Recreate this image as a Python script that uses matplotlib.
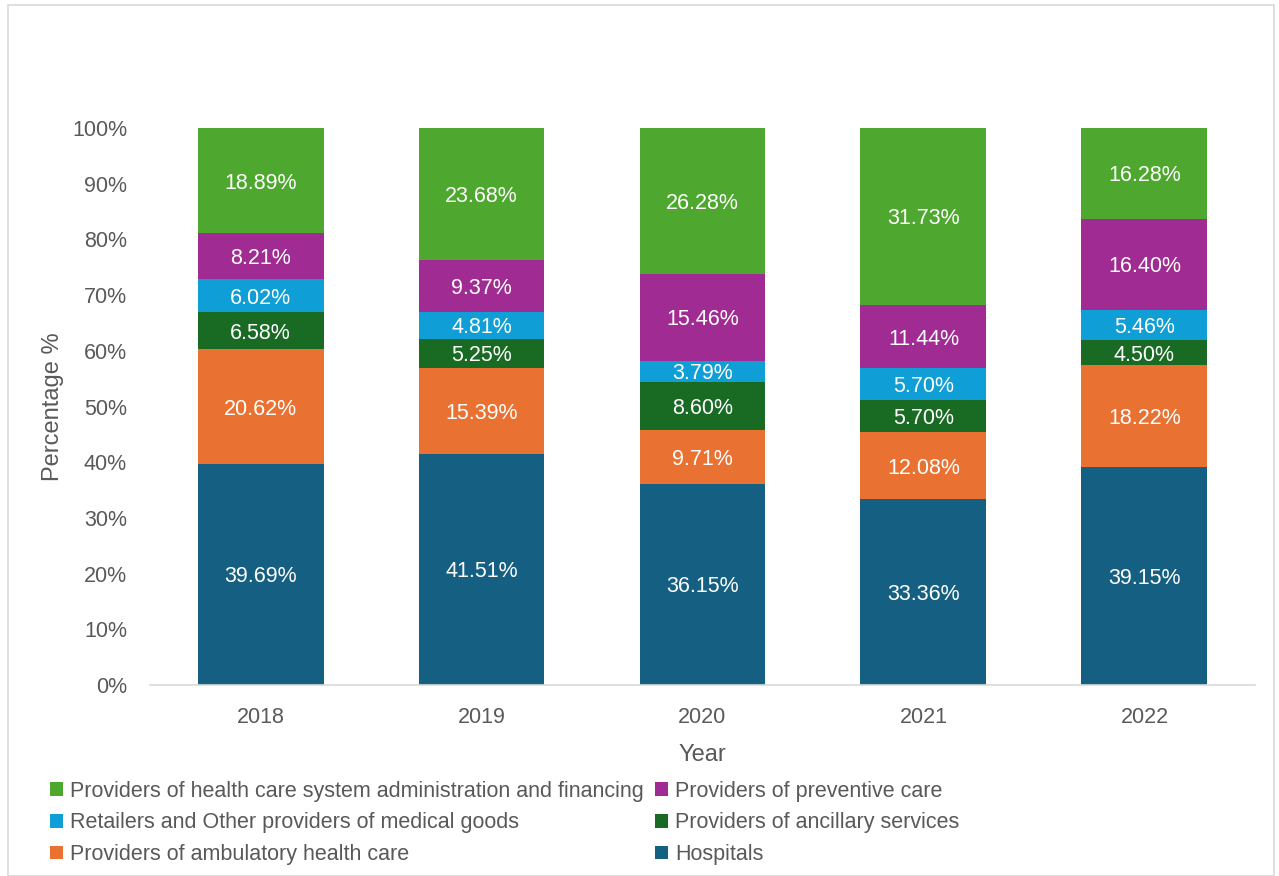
import matplotlib
matplotlib.use("Agg")
import matplotlib.pyplot as plt
from matplotlib.patches import Rectangle
import numpy as np

plt.rcParams['font.family'] = ['Liberation Sans', 'DejaVu Sans']

years = ['2018', '2019', '2020', '2021', '2022']

# bottom to top
series = ['Hospitals',
          'Providers of ambulatory health care',
          'Providers of ancillary services',
          'Retailers and Other providers of medical goods',
          'Providers of preventive care',
          'Providers of health care system administration and financing']
hospitals = [39.69, 41.51, 36.15, 33.36, 39.15]
ambulatory = [20.62, 15.39, 9.71, 12.08, 18.22]
ancillary = [6.58, 5.25, 8.60, 5.70, 4.50]
retailers = [6.02, 4.81, 3.79, 5.70, 5.46]
preventive = [8.21, 9.37, 15.46, 11.44, 16.40]
admin = [18.89, 23.68, 26.28, 31.73, 16.28]
colors = ['#156082', '#E97132', '#196B24', '#0F9ED5', '#A02B93', '#4EA72E']

values = [hospitals, ambulatory, ancillary, retailers, preventive, admin]
grey = '#595959'

fig = plt.figure(figsize=(12.79, 8.76), dpi=100)
fig.patches.append(Rectangle((0.006, 0.0), 0.99, 0.994, transform=fig.transFigure,
                             fill=False, edgecolor='#d9d9d9', linewidth=1.2))
ax = fig.add_axes([0.1173, 0.218, 0.8639, 0.6359])

x = np.arange(len(years))
bottom = np.zeros(len(years))
bars = {}
for name, vals, c in zip(series, values, colors):
    vals = np.array(vals)
    b = ax.bar(x, vals, width=0.57, bottom=bottom, color=c, label=name)
    bars[name] = b
    for xi, v, bt in zip(x, vals, bottom):
        ax.text(xi, bt + v / 2, f'{v:.2f}%', ha='center', va='center_baseline',
                color='white', fontsize=15.5)
    bottom += vals

ax.set_xlim(-0.5, len(years) - 0.5)
ax.set_ylim(0, 100)
ax.set_yticks(np.arange(0, 101, 10))
ax.set_yticklabels([f'{t}%' for t in range(0, 101, 10)])
ax.set_xticks(x)
ax.set_xticklabels(years)
ax.tick_params(axis='both', length=0, labelsize=15.5, labelcolor=grey)
ax.tick_params(axis='x', pad=16)
ax.tick_params(axis='y', pad=16.5)
for s in ['top', 'right', 'left']:
    ax.spines[s].set_visible(False)
ax.spines['bottom'].set_color('#d9d9d9')
ax.spines['bottom'].set_linewidth(1.2)

ax.set_xlabel('Year', fontsize=17, color=grey, labelpad=11)
ax.set_ylabel('Percentage %', fontsize=17, color=grey, labelpad=6)

order = [5, 3, 1, 4, 2, 0]
handles = [bars[series[i]] for i in order]
labels = [series[i] for i in order]
leg = fig.legend(handles, labels, ncol=2, loc='upper left',
                 bbox_to_anchor=(0.039, 0.109), frameon=False,
                 fontsize=15.5, handlelength=0.6, handleheight=0.6,
                 handletextpad=0.35, columnspacing=0.5, labelspacing=0.5,
                 borderaxespad=0, borderpad=0)
for t in leg.get_texts():
    t.set_color(grey)

fig.savefig('out.png', dpi=100)
